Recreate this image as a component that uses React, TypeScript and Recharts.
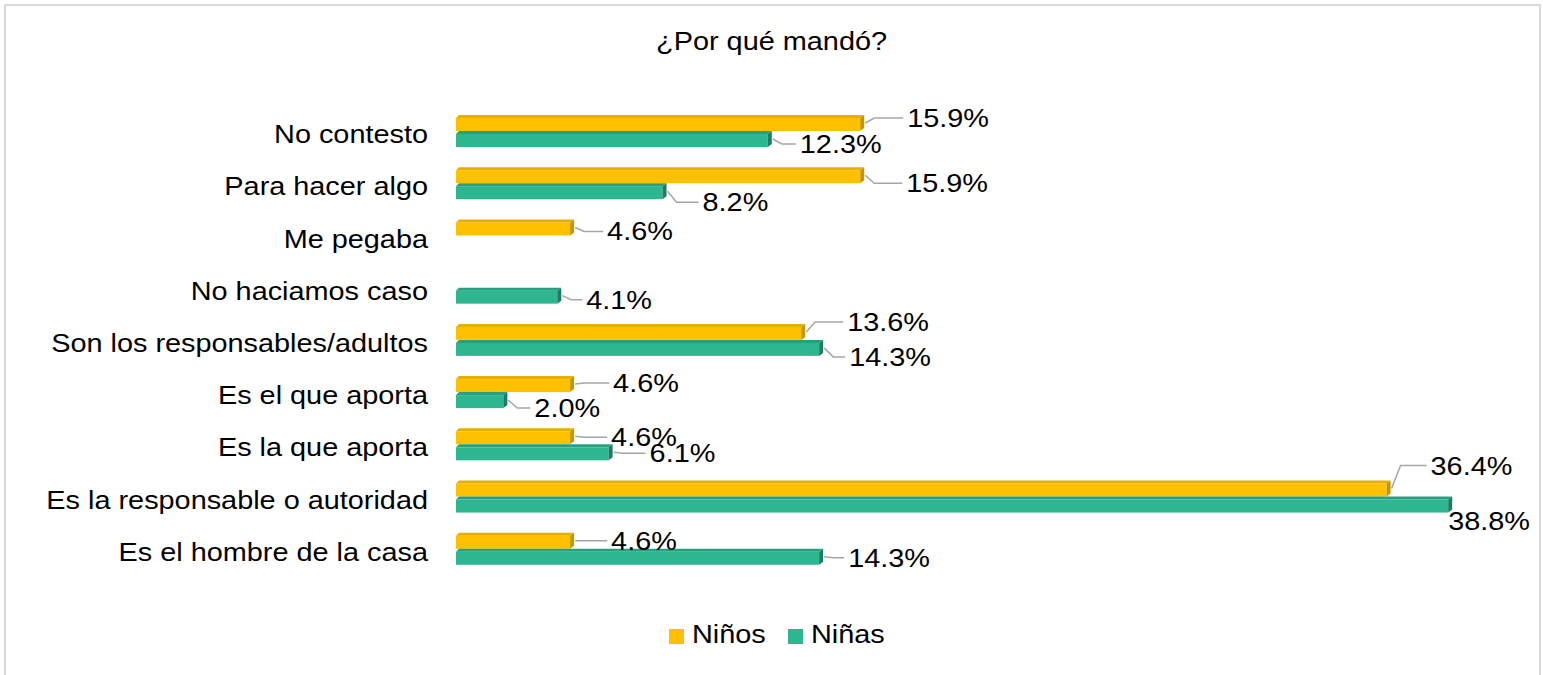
import { Bar, BarChart, LabelList, XAxis, YAxis } from "recharts";

const CATEGORIES = [
  "No contesto",
  "Para hacer algo",
  "Me pegaba",
  "No haciamos caso",
  "Son los responsables/adultos",
  "Es el que aporta",
  "Es la que aporta",
  "Es la responsable o autoridad",
  "Es el hombre de la casa",
];
const NINOS = [15.9, 15.9, 4.6, null, 13.6, 4.6, 4.6, 36.4, 4.6];
const NINAS = [12.3, 8.2, null, 4.1, 14.3, 2.0, 6.1, 38.8, 14.3];
const SERIES_NAMES = ["Niños", "Niñas"];
const TITLE = "¿Por qué mandó?";

// label placement (dx from bar end, dy from bar middle)
const NINOS_NUDGE = [[43, -5], [42, 8], [33, 4], [0, 0], [42, -10], [39, -1], [37, 1], [40, -23], [37, 0]];
const NINAS_NUDGE = [[28, 5], [36, 11], [0, 0], [25, 4], [26, 9], [27, 8], [37, 1], [-4, 16], [25, 1]];

const YELLOW = { front: "#FFC000", top: "#E8AE00", side: "#C79500" };
const TEAL = { front: "#2DB690", top: "#26A07E", side: "#1E7C62" };

const FONT = "'Liberation Sans', Arial, sans-serif";
const SX = 1.11; // the source image is a bit stretched horizontally

const W = 1543;
const H = 675;
const M = { top: 105, right: 60, bottom: 100, left: 6 };
const BAND = (H - M.top - M.bottom) / CATEGORIES.length;

const data = CATEGORIES.map((name, i) => ({ name, ninos: NINOS[i], ninas: NINAS[i] }));

function bar3d(c: typeof YELLOW) {
  return (props: any) => {
    const { x, y, width, height } = props;
    if (!width || width <= 0) return <g />;
    const d = 3;
    const e = x + width;
    return (
      <g>
        <rect x={x} y={y + d} width={Math.max(0, width - 4)} height={height - d} fill={c.front} />
        <polygon points={`${x},${y + d} ${x + d},${y} ${e},${y} ${e - 4},${y + d}`} fill={c.top} />
        <polygon points={`${e - 4},${y + d} ${e},${y} ${e},${y + height - d} ${e - 4},${y + height}`} fill={c.side} />
      </g>
    );
  };
}

function leaderLabel(nudge: number[][]) {
  return (props: any) => {
    const { x, y, width, height, value } = props;
    if (value == null || value === 0) return null;
    const end = x + width;
    const mid = y + height / 2;
    // category row from the bar's position (LabelList skips empty entries)
    const row = Math.min(CATEGORIES.length - 1, Math.max(0, Math.floor((mid - M.top) / BAND)));
    const [dx, dy] = nudge[row] ?? [30, 0];
    const tx = end + dx;
    const ty = mid + dy;
    return (
      <g>
        {dx > 12 && (
          <polyline
            points={`${end + 1},${mid} ${end + 10},${ty} ${tx - 4},${ty}`}
            fill="none"
            stroke="#A6A6A6"
            strokeWidth={1.5}
          />
        )}
        <text
          transform={`translate(${tx},${ty + 9}) scale(${SX},1)`}
          fontFamily={FONT}
          fontSize={26}
          fill="#000"
        >
          {`${Number(value).toFixed(1)}%`}
        </text>
      </g>
    );
  };
}

function CategoryTick(props: any) {
  const { y, payload } = props;
  return (
    <text
      transform={`translate(428,${y + 12}) scale(${SX},1)`}
      textAnchor="end"
      fontFamily={FONT}
      fontSize={26}
      fill="#000"
    >
      {payload.value}
    </text>
  );
}

export default function App() {
  return (
    <div
      style={{
        position: "absolute",
        left: 0,
        top: 0,
        width: W,
        height: H,
        background: "#fff",
        overflow: "hidden",
        fontFamily: FONT,
      }}
    >
      <div
        style={{
          position: "absolute",
          left: 4,
          top: 4,
          width: 1537,
          height: 671,
          boxSizing: "border-box",
          border: "2px solid #D9D9D9",
          borderBottom: "none",
        }}
      />
      <div
        style={{
          position: "absolute",
          left: 0,
          top: 23,
          width: W,
          textAlign: "center",
          fontSize: 26,
          lineHeight: "36px",
          transform: `scaleX(${SX})`,
          transformOrigin: "771px 0",
        }}
      >
        {TITLE}
      </div>
      <div style={{ position: "absolute", left: 0, top: 0 }}>
        <BarChart width={W} height={H} data={data} layout="vertical" margin={M} barSize={16} barGap={0}>
          <XAxis type="number" domain={[0, 40]} hide />
          <YAxis
            type="category"
            dataKey="name"
            width={450}
            tickLine={false}
            axisLine={false}
            tick={CategoryTick}
            interval={0}
          />
          <Bar dataKey="ninos" name={SERIES_NAMES[0]} fill={YELLOW.front} shape={bar3d(YELLOW)} isAnimationActive={false}>
            <LabelList dataKey="ninos" content={leaderLabel(NINOS_NUDGE)} />
          </Bar>
          <Bar dataKey="ninas" name={SERIES_NAMES[1]} fill={TEAL.front} shape={bar3d(TEAL)} isAnimationActive={false}>
            <LabelList dataKey="ninas" content={leaderLabel(NINAS_NUDGE)} />
          </Bar>
        </BarChart>
      </div>
      <div style={{ position: "absolute", left: 669, top: 629, height: 15, display: "flex", alignItems: "flex-start" }}>
        {SERIES_NAMES.map((n, i) => (
          <div key={n} style={{ position: "relative", width: i === 0 ? 119 : 100, height: 15 }}>
            <div style={{ position: "absolute", left: 0, top: 0, width: 15, height: 15, background: i === 0 ? YELLOW.front : TEAL.front }} />
            <div
              style={{
                position: "absolute",
                left: 23,
                top: -13,
                fontSize: 26,
                lineHeight: "36px",
                whiteSpace: "nowrap",
                transform: `scaleX(${SX})`,
                transformOrigin: "0 0",
              }}
            >
              {n}
            </div>
          </div>
        ))}
      </div>
    </div>
  );
}
